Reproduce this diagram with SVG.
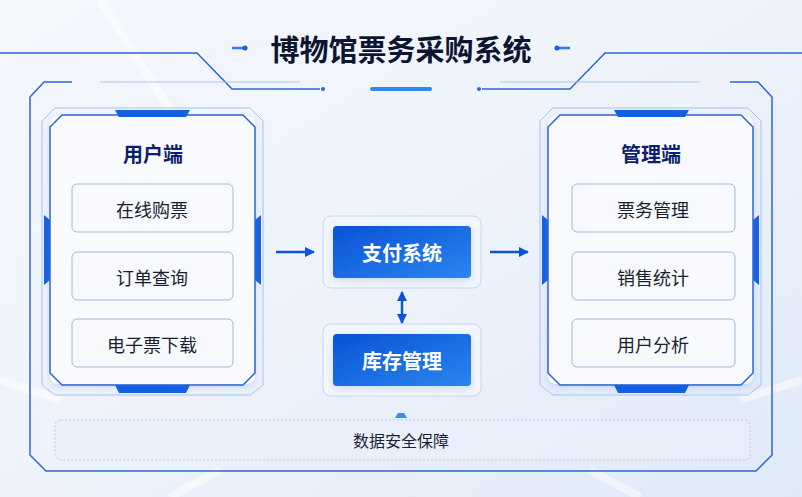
<svg xmlns="http://www.w3.org/2000/svg" width="802" height="497" viewBox="0 0 802 497">
<defs>
<linearGradient id="bg" x1="0" y1="0" x2="1" y2="1"><stop offset="0" stop-color="#f4f7fc"/><stop offset="0.5" stop-color="#eef3fb"/><stop offset="1" stop-color="#dfe9f8"/></linearGradient>
<linearGradient id="btn" x1="0" y1="0" x2="1" y2="1"><stop offset="0" stop-color="#0b52d6"/><stop offset="1" stop-color="#2a86f0"/></linearGradient>
<marker id="ah" viewBox="0 0 10 10" refX="9" refY="5" markerWidth="4" markerHeight="4" orient="auto-start-reverse"><path d="M0,0 L10,5 L0,10 Z" fill="#0d55d8"/></marker>
<filter id="sh" x="-10%" y="-10%" width="120%" height="130%"><feDropShadow dx="0" dy="3" stdDeviation="4" flood-color="#5a86d0" flood-opacity="0.25"/></filter>
</defs>
<style>
.t{font-family:"Noto Sans CJK SC","Noto Sans",sans-serif;text-anchor:middle;dominant-baseline:central}
.frame{fill:none;stroke:#2c66dc;stroke-width:1.5}
.thin{fill:none;stroke:#a9c2ee;stroke-width:1}
.item{fill:#f7f9fd;stroke:#9fb7e0;stroke-width:1}
.card{fill:#f8fafe;filter:url(#sh)}
.head{font-size:20px;font-weight:700;fill:#0c1f6b}
.it{font-size:18px;fill:#1a1f2e}
.bt{font-size:20px;font-weight:700;fill:#fff}
.acc{fill:#1560e0}
.conn{stroke:#0d55d8;stroke-width:2.5;marker-end:url(#ah)}
</style>
<rect width="802" height="497" fill="url(#bg)"/>
<g opacity="0.5" stroke="#ffffff" stroke-width="8">
<line x1="100" y1="0" x2="170" y2="110"/><line x1="0" y1="380" x2="60" y2="400"/><line x1="740" y1="400" x2="802" y2="380"/>
<line x1="170" y1="497" x2="220" y2="470"/><line x1="640" y1="497" x2="590" y2="470"/>
</g>
<g id="outer-frame">
<path class="frame" d="M0,53 L197,53 L232,89 L320,89"/>
<path class="frame" d="M802,53 L605,53 L570,89 L482,89"/>
<circle cx="323" cy="89" r="2" fill="#2c66dc"/><circle cx="479" cy="89" r="2" fill="#2c66dc"/>
<path class="frame" d="M72,82 L44,82 L30,97 L30,455 L46,471 L756,471 L772,455 L772,97 L758,82 L730,82"/>
<path class="thin" d="M100,82 L300,82"/><path class="thin" d="M500,82 L700,82"/>
</g>
<g id="title">
<line x1="232" y1="48" x2="243" y2="48" stroke="#2c7ef0" stroke-width="2.5"/><circle cx="245" cy="48" r="2.5" fill="#1560e0"/>
<line x1="559" y1="48" x2="570" y2="48" stroke="#2c7ef0" stroke-width="2.5"/><circle cx="557" cy="48" r="2.5" fill="#1560e0"/>
<line x1="372" y1="89" x2="430" y2="89" stroke="#2c8af0" stroke-width="4" stroke-linecap="round"/>
<text class="t" x="401" y="48" font-size="29" font-weight="700" fill="#0c1633">博物馆票务采购系统</text>
</g>
<g id="user-panel">
<path class="thin" d="M55,108 L250,108 L263,121 L263,385 L250,395 L55,395 L42,385 L42,121 Z"/>
<path d="M44,215 L50,220 L50,280 L44,285 Z" class="acc"/><path d="M261,215 L255,220 L255,280 L261,285 Z" class="acc"/>
<rect class="card" x="50" y="116" width="205" height="268" rx="8"/>
<path class="frame" d="M62,115 L243,115 L255,127 L255,373 L243,385 L62,385 L50,373 L50,127 Z"/>
<path class="acc" d="M115,110 L190,110 L186,117 L119,117 Z"/>
<path class="acc" d="M115,385 L190,385 L186,393 L119,393 Z"/>
<text class="t head" x="153" y="153">用户端</text>
<rect class="item" x="72" y="184" width="161" height="48" rx="5"/><text class="t it" x="152" y="209">在线购票</text>
<rect class="item" x="72" y="252" width="161" height="48" rx="5"/><text class="t it" x="152" y="277">订单查询</text>
<rect class="item" x="72" y="319" width="161" height="48" rx="5"/><text class="t it" x="152" y="344">电子票下载</text>
</g>
<g id="admin-panel">
<path class="thin" d="M553,108 L748,108 L761,121 L761,385 L748,395 L553,395 L540,385 L540,121 Z"/>
<path d="M542,215 L548,220 L548,280 L542,285 Z" class="acc"/><path d="M759,215 L753,220 L753,280 L759,285 Z" class="acc"/>
<rect class="card" x="548" y="116" width="205" height="268" rx="8"/>
<path class="frame" d="M560,115 L741,115 L753,127 L753,373 L741,385 L560,385 L548,373 L548,127 Z"/>
<path class="acc" d="M614,110 L689,110 L685,117 L618,117 Z"/>
<path class="acc" d="M614,385 L689,385 L685,393 L618,393 Z"/>
<text class="t head" x="651" y="153">管理端</text>
<rect class="item" x="572" y="184" width="163" height="48" rx="5"/><text class="t it" x="653" y="209">票务管理</text>
<rect class="item" x="572" y="252" width="163" height="48" rx="5"/><text class="t it" x="653" y="277">销售统计</text>
<rect class="item" x="572" y="319" width="163" height="48" rx="5"/><text class="t it" x="653" y="344">用户分析</text>
</g>
<g id="payment">
<rect x="323" y="216" width="158" height="72" rx="8" fill="#f3f7fd" stroke="#c5d6f2"/>
<rect x="333" y="226" width="138" height="52" rx="4" fill="url(#btn)" filter="url(#sh)"/>
<text class="t bt" x="402" y="252">支付系统</text>
</g>
<g id="inventory">
<rect x="323" y="324" width="158" height="72" rx="8" fill="#f3f7fd" stroke="#c5d6f2"/>
<rect x="333" y="334" width="138" height="52" rx="4" fill="url(#btn)" filter="url(#sh)"/>
<text class="t bt" x="402" y="360">库存管理</text>
</g>
<g id="security">
<path d="M395,418 L407,418 L404,413 L398,413 Z" fill="#3a8cf0"/>
<rect x="55" y="420" width="695" height="40" rx="6" fill="#e9f0fb" fill-opacity="0.7" stroke="#b6c9ea" stroke-dasharray="2,2"/>
<text class="t" x="401" y="440" font-size="16" fill="#1a1f2e">数据安全保障</text>
</g>
<g id="connectors">
<line class="conn" x1="276" y1="252" x2="314" y2="252"/>
<line class="conn" x1="490" y1="252" x2="528" y2="252"/>
<line class="conn" x1="402" y1="292" x2="402" y2="323" marker-start="url(#ah)"/>
</g>
</svg>
